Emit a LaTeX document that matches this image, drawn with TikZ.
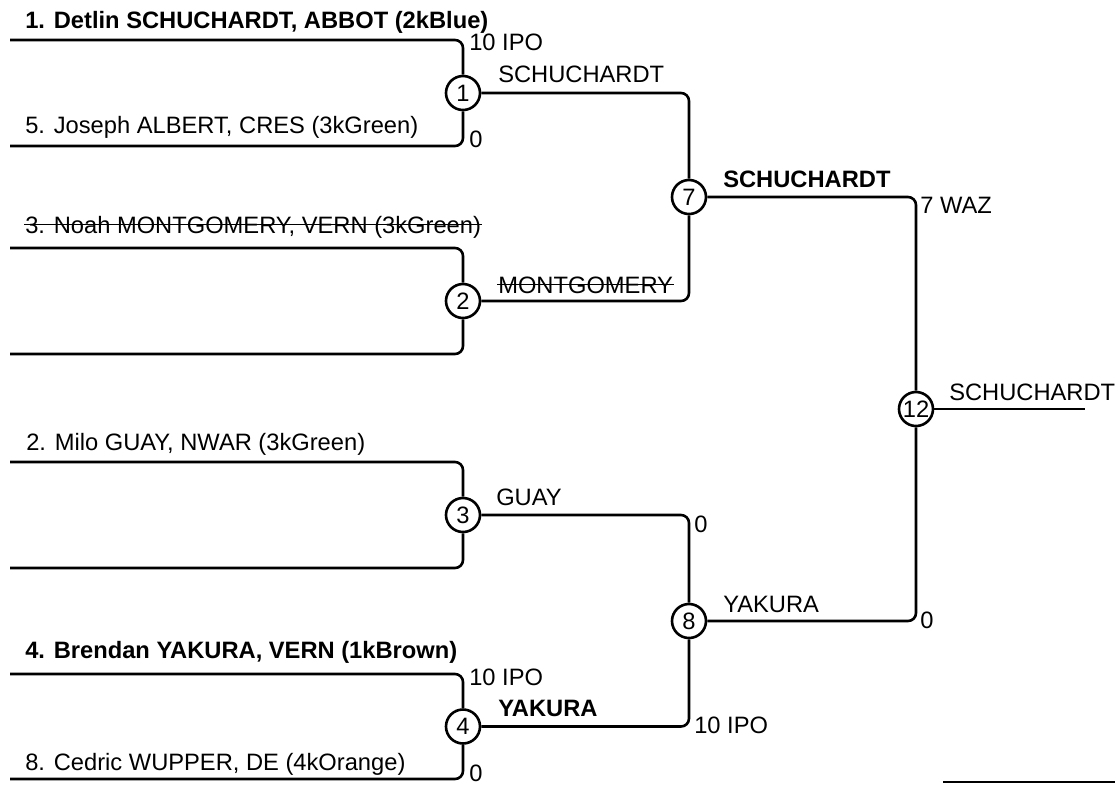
\documentclass[tikz,border=0pt]{standalone}
\usepackage{fontspec}
\setmainfont{Liberation Sans}
\usetikzlibrary{positioning}

\begin{document}
\begin{tikzpicture}[%
    x=0.5pt, y=-0.5pt,
    line width=1.3pt,
    game/.style={
        draw,
        circle,
        minimum size = 17pt,
        inner sep = 0pt,
        fill = white,
        font = \fontsize{11.85}{14}\selectfont,
        },
    entrant/.style={
        anchor = base west,
        inner sep = 0pt,
        font = \fontsize{11.85}{14}\selectfont,
        },
    score/.style={entrant},
    winner/.style={entrant},
    heavy/.style={font=\fontsize{11.85}{14}\selectfont\bfseries},
    link/.style={rounded corners=4pt},
    strikeline/.style={line width=0.8pt},
]

\useasboundingbox (0,0) rectangle (1115,784);

% first round
\foreach \g/\t/\b in {1/40/146, 2/248/354, 3/462/568, 4/674/779}{
    \node[game] (g\g) at (463,{(\t+\b)/2}) {\g};
    \coordinate (t\g) at (10,\t);
    \coordinate (b\g) at (10,\b);
    \draw[link] (t\g) -| (g\g);
    \draw[link] (b\g) -| (g\g);
}

% later rounds
\node[game] (g7) at (689,197) {7};
\node[game] (g8) at (689,621) {8};
\node[game] (g12) at (916,409) {12};
\coordinate (champ) at (1085,409);

\draw[link] (g1) -| (g7);
\draw[link] (g2) -| (g7);
\draw[link] (g3) -| (g8);
\draw[link] (g4) -| (g8);
\draw[link] (g7) -| (g12);
\draw[link] (g8) -| (g12);
\draw (g12) -- (champ);

% entrants
\node[entrant, heavy] (s1) at (24,28) {1. Detlin SCHUCHARDT, ABBOT (2kBlue)};
\node[entrant] (s5) at (24,133) {5. Joseph ALBERT, CRES (3kGreen)};
\node[entrant] (s3) at (24,233) {3. Noah MONTGOMERY, VERN (3kGreen)};
\node[entrant] (s2) at (25,450) {2. Milo GUAY, NWAR (3kGreen)};
\node[entrant, heavy] (s4) at (24,658) {4. Brendan YAKURA, VERN (1kBrown)};
\node[entrant] (s8) at (24,770) {8. Cedric WUPPER, DE (4kOrange)};

% scores
\node[score] (p1t) at (468,50) {10 IPO};
\node[score] (p1b) at (468,147) {0};
\node[score] (p4t) at (468,685) {10 IPO};
\node[score] (p4b) at (468,781) {0};
\node[score] (p8t) at (693,532) {0};
\node[score] (p8b) at (693,733) {10 IPO};
\node[score] (p12t) at (919,213) {7 WAZ};
\node[score] (p12b) at (919,628) {0};

% winners
\node[winner] (w1) at (497,82) {SCHUCHARDT};
\node[winner] (w2) at (497,293) {MONTGOMERY};
\node[winner] (w3) at (495,505) {GUAY};
\node[winner, heavy] (w4) at (497,716) {YAKURA};
\node[winner, heavy] (w7) at (722,187) {SCHUCHARDT};
\node[winner] (w8) at (722,612) {YAKURA};
\node[winner] (w12) at (948,400) {SCHUCHARDT};

\foreach \n in {s3,w2}
    \draw[strikeline] ([yshift=4.3pt]\n.base west) -- ([yshift=4.3pt]\n.base east);

\coordinate (rule1) at (943,782);
\coordinate (rule2) at (1115,782);
\draw (rule1) -- (rule2);

\end{tikzpicture}
\end{document}
